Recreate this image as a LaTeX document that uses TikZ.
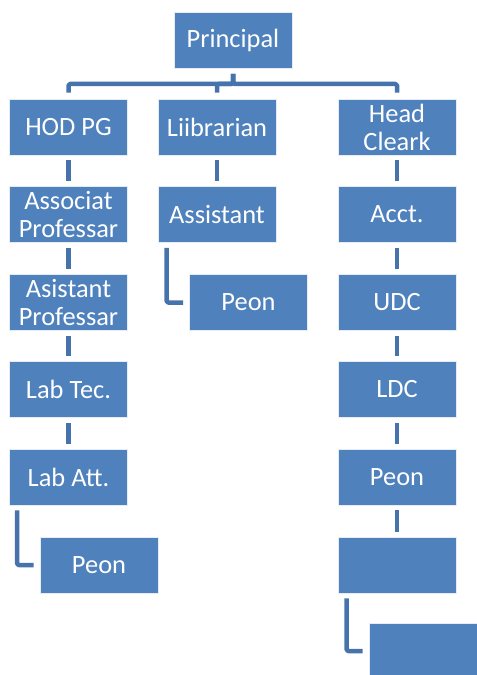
\documentclass[tikz,border=0pt]{standalone}
\usepackage{fontspec}
\setmainfont{Carlito}
\definecolor{boxblue}{HTML}{4F81BD}
\definecolor{lineblue}{HTML}{4673AC}
\begin{document}
\begin{tikzpicture}[x=1bp,y=-1bp,
  orgbox/.style={rectangle, fill=boxblue, draw=white!85!boxblue, line width=0.8bp,
    minimum width=118bp, minimum height=56bp, inner sep=0pt, align=center,
    text=white, font=\fontsize{26.5}{28}\selectfont},
  link/.style={draw=lineblue, line width=4.5bp, line join=round, rounded corners=1.5bp,
    shorten <=5bp, shorten >=5bp}]
\useasboundingbox (0,0) rectangle (477,675);
\clip (0,0) rectangle (477,675);
% nodes
\node[orgbox] (pr) at (233,40.5) {Principal};
\node[orgbox] (hod) at (68.5,127) {HOD PG};
\node[orgbox] (lib) at (217,127) {Liibrarian};
\node[orgbox] (hc) at (397,127) {Head\\Cleark};
\node[orgbox] (asp) at (68.5,214.5) {Associat\\Professar};
\node[orgbox] (ast) at (217,214.5) {Assistant};
\node[orgbox] (acc) at (397,214.5) {Acct.};
\node[orgbox] (asip) at (68.5,302.5) {Asistant\\Professar};
\node[orgbox] (peonl) at (248.5,302.5) {Peon};
\node[orgbox] (udc) at (397,302.5) {UDC};
\node[orgbox] (labt) at (68.5,389.5) {Lab Tec.};
\node[orgbox] (ldc) at (397,389.5) {LDC};
\node[orgbox] (laba) at (68.5,477) {Lab Att.};
\node[orgbox] (peonr) at (397,477) {Peon};
\node[orgbox] (peonh) at (99,565) {Peon};
\node[orgbox] (emp1) at (397,565) {};
\node[orgbox] (emp2) at (428,651) {};
% top tree
\coordinate (bar) at (233,84);
\foreach \c in {hod,lib,hc}{
  \draw[link, shorten >=6bp] (pr.south) -- (bar) -| (\c.north);
}
% vertical chains
\draw[link] (hod.south) -- (asp.north);
\draw[link] (asp.south) -- (asip.north);
\draw[link] (asip.south) -- (labt.north);
\draw[link] (labt.south) -- (laba.north);
\draw[link] (lib.south) -- (ast.north);
\draw[link] (hc.south) -- (acc.north);
\draw[link] (acc.south) -- (udc.north);
\draw[link] (udc.south) -- (ldc.north);
\draw[link] (ldc.south) -- (peonr.north);
\draw[link] (peonr.south) -- (emp1.north);
% elbows
\draw[link, shorten >=6bp] ([xshift=9bp]ast.south west) |- (peonl.west);
\draw[link, shorten >=6bp] ([xshift=8bp]laba.south west) |- (peonh.west);
\draw[link, shorten >=6bp] ([xshift=9bp]emp1.south west) |- (emp2.west);
\end{tikzpicture}
\end{document}
